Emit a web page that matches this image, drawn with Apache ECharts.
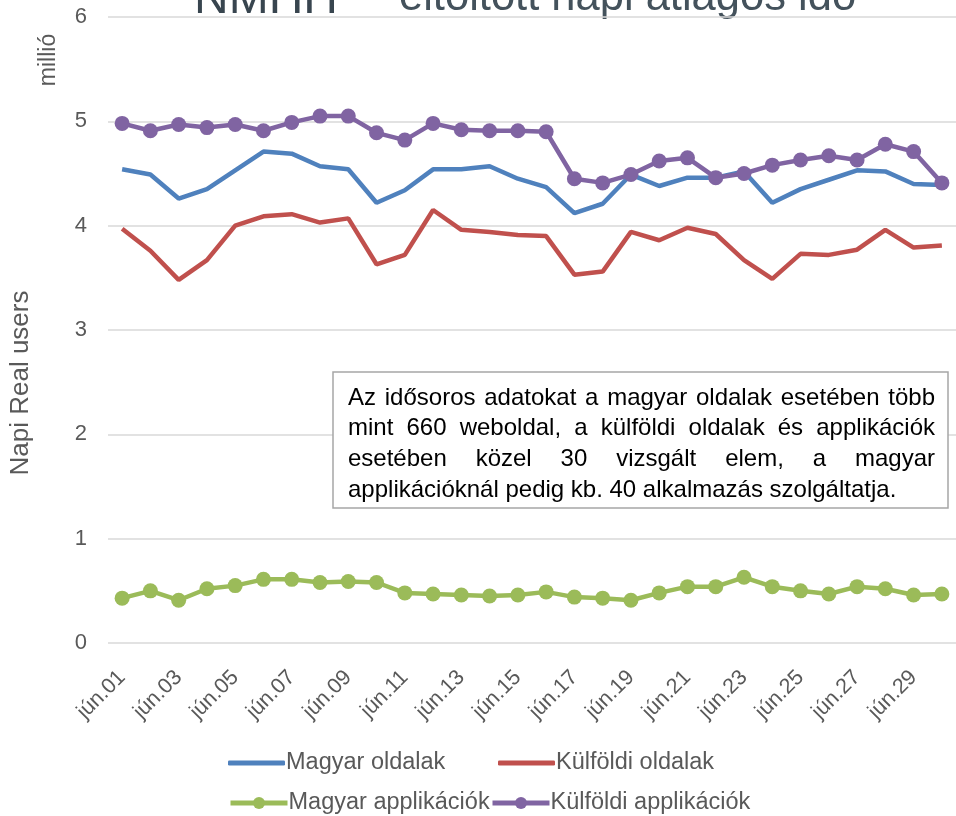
<!DOCTYPE html>
<html lang="hu">
<head>
    <meta charset="UTF-8">
    <title>Napi Real users</title>
    <style>
        html, body { margin: 0; padding: 0; background: #fff; }
        #container { width: 956px; height: 816px; }
    </style>
</head>
<body>
    <div id="container"></div>
    <script src="https://cdn.jsdelivr.net/npm/echarts@6/dist/echarts.min.js"></script>
    <script>
        // napok (x tengely)
        var days = ['jún.01', 'jún.02', 'jún.03', 'jún.04', 'jún.05', 'jún.06', 'jún.07', 'jún.08', 'jún.09', 'jún.10',
            'jún.11', 'jún.12', 'jún.13', 'jún.14', 'jún.15', 'jún.16', 'jún.17', 'jún.18', 'jún.19', 'jún.20',
            'jún.21', 'jún.22', 'jún.23', 'jún.24', 'jún.25', 'jún.26', 'jún.27', 'jún.28', 'jún.29', 'jún.30'];

        // millió felhasználó
        var magyarOldalak = [4.54, 4.49, 4.26, 4.35, 4.53, 4.71, 4.69, 4.57, 4.54, 4.22,
            4.34, 4.54, 4.54, 4.57, 4.45, 4.37, 4.12, 4.21, 4.49, 4.38,
            4.46, 4.46, 4.52, 4.22, 4.35, 4.44, 4.53, 4.52, 4.40, 4.39];
        var kulfoldiOldalak = [3.97, 3.76, 3.48, 3.67, 4.00, 4.09, 4.11, 4.03, 4.07, 3.63,
            3.72, 4.15, 3.96, 3.94, 3.91, 3.90, 3.53, 3.56, 3.94, 3.86,
            3.98, 3.92, 3.67, 3.49, 3.73, 3.72, 3.77, 3.96, 3.79, 3.81];
        var magyarApp = [0.43, 0.50, 0.41, 0.52, 0.55, 0.61, 0.61, 0.58, 0.59, 0.58,
            0.48, 0.47, 0.46, 0.45, 0.46, 0.49, 0.44, 0.43, 0.41, 0.48,
            0.54, 0.54, 0.63, 0.54, 0.50, 0.47, 0.54, 0.52, 0.46, 0.47];
        var kulfoldiApp = [4.98, 4.91, 4.97, 4.94, 4.97, 4.91, 4.99, 5.05, 5.05, 4.89,
            4.82, 4.98, 4.92, 4.91, 4.91, 4.90, 4.45, 4.41, 4.49, 4.62,
            4.65, 4.46, 4.50, 4.58, 4.63, 4.67, 4.63, 4.78, 4.71, 4.41];

        var noteLines = [
            'Az idősoros adatokat a magyar oldalak esetében több',
            'mint 660 weboldal, a külföldi oldalak és applikációk',
            'esetében közel 30 vizsgált elem, a magyar',
            'applikációknál pedig kb. 40 alkalmazás szolgáltatja.'
        ];

        var FONT = '"Liberation Sans", Arial, sans-serif';
        var textColor = '#595959';

        // sorkizárt szövegdoboz szavanként
        var ctx = document.createElement('canvas').getContext('2d');
        var noteSize = 24;
        ctx.font = noteSize + 'px ' + FONT;
        var noteLeft = 348, noteWidth = 587, noteTop = 398, noteStep = 30.7;
        var noteEls = [];
        noteLines.forEach(function (line, li) {
            var words = line.split(' ');
            var y = noteTop + li * noteStep;
            var total = 0;
            words.forEach(function (w) { total += ctx.measureText(w).width; });
            var space = ctx.measureText(' ').width;
            if (li < noteLines.length - 1 && words.length > 1) {
                space = (noteWidth - total) / (words.length - 1);
            }
            var x = noteLeft;
            words.forEach(function (w) {
                noteEls.push({
                    type: 'text', x: x, y: y, z: 101,
                    style: { text: w, fill: '#000', font: noteSize + 'px ' + FONT, verticalAlign: 'middle' }
                });
                x += ctx.measureText(w).width + space;
            });
        });

        function legendAt(name, left, top, withDot) {
            return {
                data: [withDot ? name : { name: name, icon: 'roundRect' }],
                left: left, top: withDot ? top : top + 1, padding: 0,
                itemWidth: 57, itemHeight: withDot ? 15 : 5, itemGap: 0,
                lineStyle: { width: 5 },
                textStyle: { color: textColor, fontSize: 23.5, fontFamily: FONT, padding: [0, 0, 0, -4] }
            };
        }

        var chart = echarts.init(document.getElementById('container'));
        var options = {
            animation: false,
            color: ['#4f81bd', '#c0504d', '#9bbb59', '#8064a2'],
            grid: { left: 108, right: 0, top: 17, bottom: 173 },
            legend: [
                legendAt('Magyar oldalak', 228, 750, false),
                legendAt('Külföldi oldalak', 498, 750, false),
                legendAt('Magyar applikációk', 228, 791, true),
                legendAt('Külföldi applikációk', 490, 791, true)
            ],
            xAxis: {
                type: 'category',
                data: days,
                boundaryGap: true,
                axisLine: { show: false },
                axisTick: { show: false },
                axisLabel: {
                    interval: 1, rotate: 45, margin: 31,
                    color: textColor, fontSize: 21.5, fontFamily: FONT
                }
            },
            yAxis: {
                type: 'value',
                min: 0, max: 6, interval: 1,
                axisLine: { show: false },
                axisTick: { show: false },
                axisLabel: { margin: 21, color: textColor, fontSize: 22, fontFamily: FONT },
                splitLine: { lineStyle: { color: '#d9d9d9', width: 1.5 } }
            },
            series: [
                { name: 'Magyar oldalak', type: 'line', data: magyarOldalak, symbol: 'none', lineStyle: { width: 4.5 } },
                { name: 'Külföldi oldalak', type: 'line', data: kulfoldiOldalak, symbol: 'none', lineStyle: { width: 4.5 } },
                { name: 'Magyar applikációk', type: 'line', data: magyarApp, symbol: 'circle', symbolSize: 15, lineStyle: { width: 4.5 } },
                { name: 'Külföldi applikációk', type: 'line', data: kulfoldiApp, symbol: 'circle', symbolSize: 15, lineStyle: { width: 4.5 } }
            ],
            graphic: [
                // cím, felül levágva
                { type: 'text', x: 194, y: 0, style: { text: 'NMHH', fill: '#38454f', font: '48px ' + FONT, verticalAlign: 'middle' } },
                { type: 'text', x: 399, y: -2, style: { text: 'eltöltött napi átlagos idő', fill: '#44525c', font: '43.5px ' + FONT, verticalAlign: 'middle' } },
                // tengelycímek
                { type: 'text', x: 21, y: 383, rotation: Math.PI / 2, style: { text: 'Napi Real users', fill: textColor, font: '26px ' + FONT, align: 'center', verticalAlign: 'middle' } },
                { type: 'text', x: 49, y: 60, rotation: Math.PI / 2, style: { text: 'millió', fill: textColor, font: '23px ' + FONT, align: 'center', verticalAlign: 'middle' } },
                // megjegyzés doboz
                { type: 'rect', z: 100, shape: { x: 333, y: 372, width: 615, height: 136 }, style: { fill: '#fff', stroke: '#a6a6a6', lineWidth: 1.5 } }
            ].concat(noteEls)
        };
        chart.setOption(options);
    </script>
</body>
</html>
